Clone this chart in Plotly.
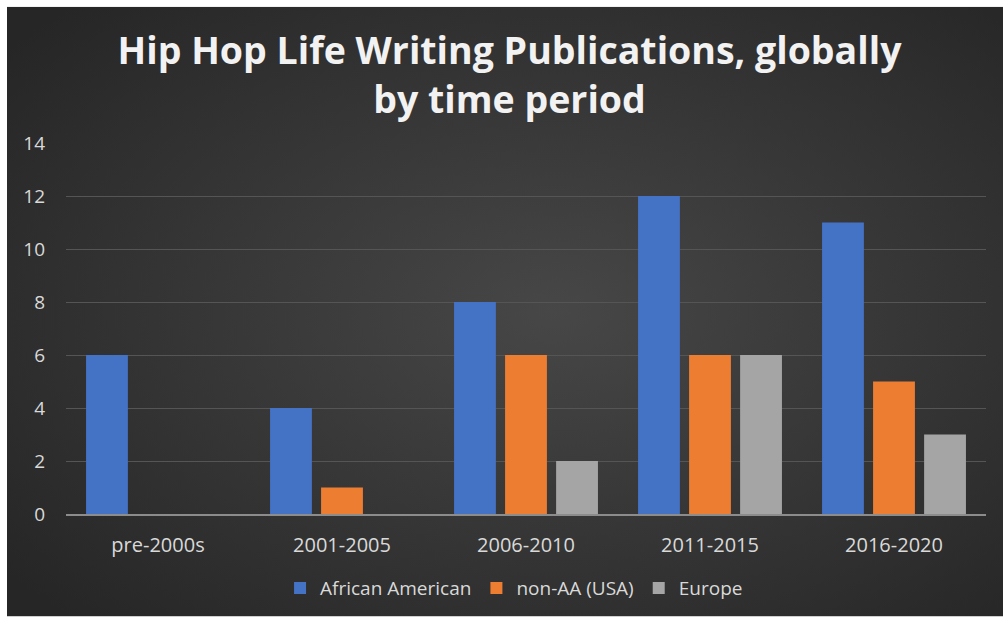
import base64
import plotly.graph_objects as go

# Publication counts per period
periods = ["pre-2000s", "2001-2005", "2006-2010", "2011-2015", "2016-2020"]
african_american = [6, 4, 8, 12, 11]
non_aa_usa = [0, 1, 6, 6, 5]
europe = [0, 0, 2, 6, 3]
y_ticks = [0, 2, 4, 6, 8, 10, 12, 14]

W, H = 1003, 619
L, R, T, B = 66, 17, 143, 103
pw, ph = W - L - R, H - T - B

# dark radial background for the chart card
svg = f"""<svg xmlns='http://www.w3.org/2000/svg' width='996' height='613'>
<defs><radialGradient id='g' cx='55%' cy='50%' r='70%'>
<stop offset='0%' stop-color='#474747'/><stop offset='100%' stop-color='#262626'/>
</radialGradient></defs><rect width='996' height='613' fill='url(#g)'/></svg>"""
bg_uri = "data:image/svg+xml;base64," + base64.b64encode(svg.encode()).decode()

font = "Open Sans"
fig = go.Figure()
series = [("African American", african_american, "#4472C4"),
          ("non-AA (USA)", non_aa_usa, "#ED7D31"),
          ("Europe", europe, "#A5A5A5")]
for name, vals, col in series:
    fig.add_trace(go.Bar(x=periods, y=vals, name=name, marker_color=col,
                         marker_line_width=0))

x0 = (7 - L) / pw
x1 = (W - L) / pw
y1 = (T + ph - 6) / ph
y0 = (T + ph - H) / ph
fig.add_layout_image(source=bg_uri, xref="paper", yref="paper", x=x0, y=y1,
                     sizex=x1 - x0, sizey=y1 - y0, sizing="stretch",
                     xanchor="left", yanchor="top", layer="below")

fig.update_layout(
    width=W, height=H,
    margin=dict(l=L, r=R, t=T, b=B),
    paper_bgcolor="white", plot_bgcolor="rgba(0,0,0,0)",
    barmode="group", bargap=0.168, bargroupgap=0.18,
    title=dict(text="<b>Hip Hop Life Writing Publications, globally<br>by time period</b>",
               x=0.508, xanchor="center", y=(619 - 64) / 619, yanchor="middle",
               font=dict(family=font, size=37.5, color="#f2f2f2")),
    font=dict(family=font, color="#d9d9d9", size=19),
    showlegend=True,
    legend=dict(orientation="h", x=0.487, xanchor="center", y=-0.2, yanchor="middle",
                font=dict(family=font, size=19, color="#d9d9d9"),
                itemwidth=30, bgcolor="rgba(0,0,0,0)"),
    xaxis=dict(showgrid=False, showline=True, linecolor="#8c8c8c", linewidth=1.5,
               ticks="", tickfont=dict(size=20, color="#d9d9d9"), ticklabelstandoff=12),
    yaxis=dict(range=[0, 14], tickvals=y_ticks, showgrid=True, gridcolor="#555555",
               gridwidth=1, zeroline=False, showline=False, ticks="",
               tickfont=dict(size=19, color="#d9d9d9"), ticklabelstandoff=20),
)

fig.write_html("out.html")
